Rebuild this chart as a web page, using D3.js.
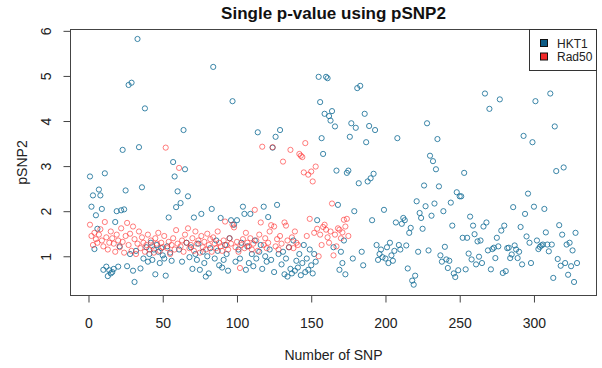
<!DOCTYPE html>
<html><head><meta charset="utf-8">
<script src="https://cdn.jsdelivr.net/npm/d3@7"></script>
<style>body{margin:0;background:#fff}svg{display:block;font-family:"Liberation Sans",Arial,sans-serif}</style>
</head><body><svg id="c" width="602" height="368"></svg>
<script>
const title = "Single p-value using pSNP2";
const xLabel = "Number of SNP";
const yLabel = "pSNP2";
const seriesNames = ["HKT1", "Rad50"];
const xTicks = [0, 50, 100, 150, 200, 250, 300];
const yTicks = [1, 2, 3, 4, 5, 6];
const hkt1 = [
2.77,2.10,2.35,1.16,1.91,1.61,2.48,2.35,2.05,0.70,
2.84,0.77,0.56,0.69,0.62,0.65,0.72,1.76,2.00,0.77,
1.22,2.02,3.36,2.04,2.46,0.78,4.80,1.05,4.85,0.68,
0.43,1.12,5.82,3.42,0.73,2.53,0.95,4.28,1.20,0.88,
1.05,1.30,0.92,1.15,0.60,1.25,1.10,0.85,1.18,1.02,
0.95,0.57,1.22,1.86,1.08,0.90,3.09,2.77,2.09,2.44,
1.15,2.18,0.88,3.80,2.93,1.30,2.33,0.98,1.20,0.72,
1.86,1.05,0.92,1.28,0.70,1.94,1.10,0.85,0.55,1.00,
0.62,1.18,2.05,5.20,0.95,1.35,1.12,0.80,1.85,0.75,
0.92,1.25,1.05,0.68,1.40,1.80,4.44,1.70,0.88,1.80,
1.15,0.95,1.30,2.10,1.94,0.70,1.22,0.85,1.94,1.05,
0.78,1.35,0.95,3.75,1.10,1.25,0.72,2.10,1.00,0.88,
1.87,1.15,0.92,3.41,0.65,3.65,2.14,1.05,3.80,0.82,
1.10,0.60,0.95,0.55,1.20,0.72,0.62,1.35,0.68,0.90,
0.75,1.05,0.58,0.85,1.25,0.65,0.95,0.70,1.15,0.80,
0.62,1.05,0.88,1.80,4.98,4.42,3.62,3.27,4.16,4.98,
4.95,4.11,4.01,4.22,1.20,3.88,2.90,2.14,0.70,1.10,
0.85,1.35,0.60,2.85,2.90,3.65,3.95,0.95,2.00,3.85,
4.73,2.62,4.78,1.10,0.80,4.16,3.53,2.66,3.89,2.73,
1.80,2.83,3.80,1.25,0.92,1.05,1.15,0.98,2.03,0.95,
1.20,0.85,1.30,1.02,0.90,1.12,1.75,3.62,1.25,1.15,
1.72,1.85,1.80,1.24,0.73,1.52,1.63,0.46,0.37,0.57,
2.22,1.10,1.96,1.85,1.61,2.57,2.11,3.95,1.13,3.23,
1.90,3.11,2.17,2.93,3.60,2.55,1.02,0.88,2.00,1.21,
0.93,0.74,0.90,2.19,1.68,0.62,0.54,2.42,0.69,2.33,
2.33,1.41,2.85,0.71,1.41,1.06,1.88,0.93,1.68,1.49,
0.82,1.33,0.99,1.35,0.85,1.66,4.61,1.75,1.13,4.27,
0.71,1.16,1.19,0.96,1.41,1.22,4.48,1.57,0.63,1.68,
0.67,1.18,1.19,0.96,1.04,2.09,1.24,1.15,0.96,1.10,
1.65,0.82,3.67,1.94,1.44,2.39,1.30,0.85,3.53,2.10,
4.44,1.35,1.16,1.21,1.24,1.26,2.05,1.53,1.26,1.11,
4.61,1.26,0.52,3.88,2.89,0.94,1.69,0.79,1.48,2.97,
0.85,1.26,0.59,1.30,0.78,1.13,0.43,1.52,0.85];
const rad50 = [
1.70,1.45,1.25,1.52,1.38,1.30,1.48,1.60,1.35,1.22,
1.76,1.42,1.15,1.30,1.55,1.40,1.28,1.10,1.48,1.35,
1.20,1.62,1.32,1.08,1.45,1.74,1.25,1.50,1.12,1.66,
1.38,1.05,1.28,1.55,1.18,1.42,1.30,1.10,1.25,1.48,
1.15,1.35,1.22,1.08,1.40,1.28,1.52,1.12,1.30,1.20,
1.45,3.41,1.18,1.32,1.05,1.25,1.40,1.15,1.58,1.28,
2.96,1.22,1.35,1.10,1.48,1.30,1.62,1.18,1.25,1.40,
1.12,1.55,1.28,1.35,1.08,1.45,1.20,1.32,1.15,1.50,
1.25,1.38,1.10,1.42,1.28,1.18,1.55,1.30,1.22,1.12,
1.35,1.77,1.25,1.15,1.40,1.28,1.70,1.64,1.20,1.32,
1.10,0.74,1.25,1.38,1.18,1.52,1.30,1.22,1.40,1.15,
1.28,2.03,1.35,1.12,1.48,1.75,3.43,1.25,1.40,1.18,
1.30,1.55,1.69,3.42,1.66,1.22,1.38,1.15,1.45,1.28,
3.10,1.75,1.68,1.35,1.20,3.36,1.42,1.18,1.55,1.30,
1.25,3.27,3.23,3.20,2.86,3.51,1.45,2.81,1.83,2.88,
2.66,1.52,2.99,1.61,1.00,1.48,1.25,1.65,1.70,1.59,
1.42,1.30,1.55,2.17,1.02,1.48,1.22,1.62,1.59,1.40,
1.53,1.81,1.66,1.83,1.45];
const colors = ["#1a7199", "#ff2a2a"];

const svg = d3.select("#c");
const L = 70.5, R = 596.5, T = 29.5, B = 295.5;
const x = d3.scaleLinear().domain([-12.12, 342.12]).range([L, R]);
const y = d3.scaleLinear().domain([0.13, 6.03]).range([B, T]);

const xAxis = svg.append("g").attr("transform", `translate(0,${B})`)
  .call(d3.axisBottom(x).tickValues(xTicks).tickSize(7).tickPadding(16).tickFormat(d3.format("d")));
const yAxis = svg.append("g").attr("transform", `translate(${L},0)`)
  .call(d3.axisLeft(y).tickValues(yTicks).tickSize(7).tickPadding(5).tickFormat(d3.format("d")));
[xAxis, yAxis].forEach(a => {
  a.select(".domain").attr("stroke", "#444");
  a.selectAll(".tick line").attr("stroke", "#444");
  a.selectAll("text").attr("font-size", 14).attr("fill", "#222").attr("font-family", "Liberation Sans, Arial, sans-serif");
});
xAxis.select(".domain").attr("d", `M${x(0)},0H${x(300)}`);
yAxis.select(".domain").attr("d", `M0,${y(1)}V${y(6)}`);
yAxis.selectAll(".tick text").attr("transform", "rotate(-90)").attr("text-anchor", "middle")
  .attr("x", 0).attr("y", -20).attr("dy", 0);

svg.append("rect").attr("x", L).attr("y", T).attr("width", R - L).attr("height", B - T)
  .attr("fill", "none").attr("stroke", "#444");

const pts = svg.append("g");
pts.selectAll("circle.h").data(hkt1).join("circle").attr("class", "h")
  .attr("cx", (d, i) => x(i + 1)).attr("cy", d => y(d)).attr("r", 2.6)
  .attr("fill", "none").attr("stroke", colors[0]).attr("stroke-opacity", 0.85).attr("stroke-width", 1);
pts.selectAll("circle.r").data(rad50).join("circle").attr("class", "r")
  .attr("cx", (d, i) => x(i + 1)).attr("cy", d => y(d)).attr("r", 2.6)
  .attr("fill", "none").attr("stroke", colors[1]).attr("stroke-opacity", 0.6).attr("stroke-width", 1);

svg.append("text").attr("x", (L + R) / 2).attr("y", 19).attr("text-anchor", "middle")
  .attr("font-size", 17).attr("font-weight", "bold").attr("fill", "#111").text(title);
svg.append("text").attr("x", (L + R) / 2).attr("y", 360).attr("text-anchor", "middle")
  .attr("font-size", 14).attr("fill", "#222").text(xLabel);
svg.append("text").attr("transform", `translate(27,${(T + B) / 2}) rotate(-90)`).attr("text-anchor", "middle")
  .attr("font-size", 14).attr("fill", "#222").text(yLabel);

const lg = svg.append("g");
lg.append("rect").attr("x", 529.5).attr("y", T).attr("width", R - 529.5).attr("height", 41)
  .attr("fill", "#fff").attr("stroke", "#333");
const legFill = ["#0d5c86", "#f22a2a"];
seriesNames.forEach((n, i) => {
  lg.append("rect").attr("x", 540.5).attr("y", 39.5 + i * 13.5).attr("width", 7).attr("height", 7)
    .attr("fill", legFill[i]).attr("stroke", "#111");
  lg.append("text").attr("x", 557).attr("y", 47.5 + i * 13.5).attr("font-size", 12).attr("fill", "#222").text(n);
});
</script></body></html>
